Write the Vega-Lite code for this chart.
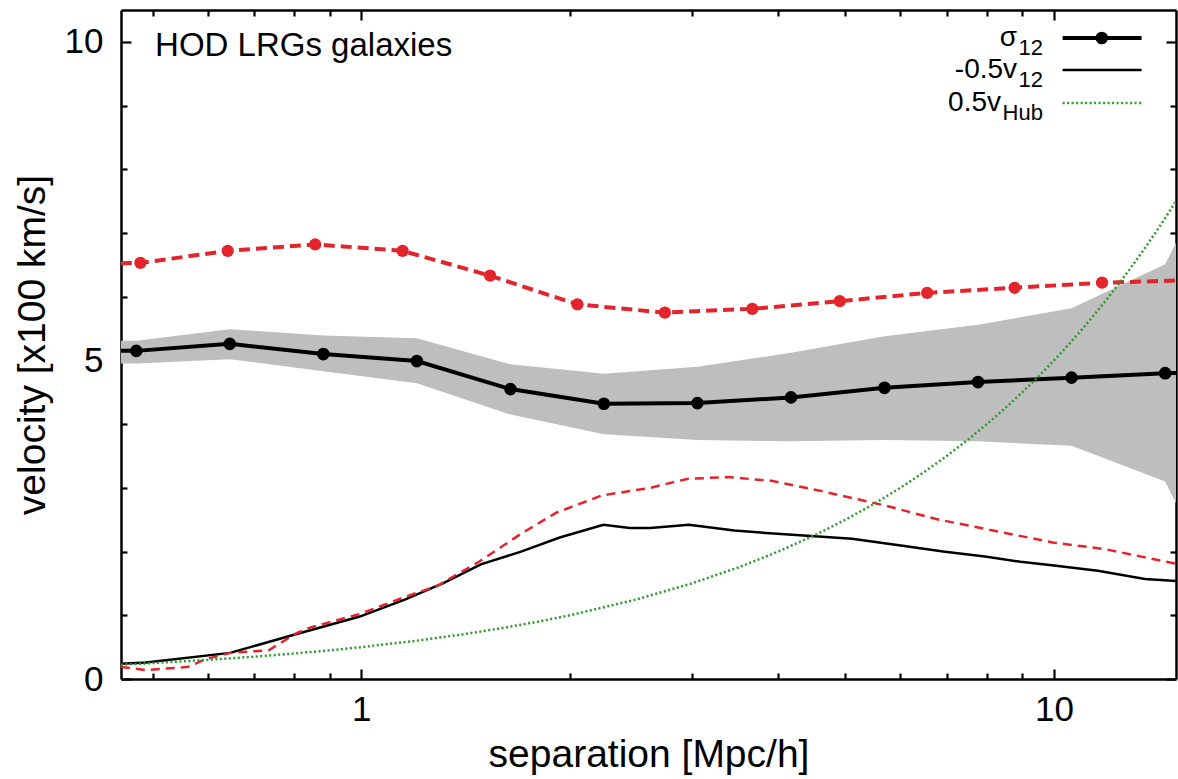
{
  "$schema": "https://vega.github.io/schema/vega-lite/v6.json",
  "width": 1055,
  "height": 669,
  "autosize": {"type": "none"},
  "padding": {"left": 121, "top": 10, "right": 2, "bottom": 100},
  "config": {
    "font": "Liberation Sans",
    "view": {"stroke": null},
    "axis": {"grid": false, "labelColor": "black", "titleColor": "black", "tickColor": "black", "domainColor": "black", "titleFontWeight": "normal"}
  },
  "datasets": {
    "sigmaHod": [
      {"r": 0.347, "v": 5.15, "lo": 4.95, "hi": 5.31},
      {"r": 0.4735, "v": 5.15, "lo": 4.95, "hi": 5.31},
      {"r": 0.646, "v": 5.26, "lo": 5.02, "hi": 5.49},
      {"r": 0.8816, "v": 5.10, "lo": 4.83, "hi": 5.39},
      {"r": 1.203, "v": 4.99, "lo": 4.64, "hi": 5.35},
      {"r": 1.642, "v": 4.55, "lo": 4.15, "hi": 4.94},
      {"r": 2.240, "v": 4.32, "lo": 3.84, "hi": 4.79},
      {"r": 3.057, "v": 4.33, "lo": 3.75, "hi": 4.90},
      {"r": 4.172, "v": 4.42, "lo": 3.73, "hi": 5.12},
      {"r": 5.692, "v": 4.57, "lo": 3.75, "hi": 5.38},
      {"r": 7.768, "v": 4.66, "lo": 3.73, "hi": 5.56},
      {"r": 10.60, "v": 4.73, "lo": 3.66, "hi": 5.82},
      {"r": 14.47, "v": 4.80, "lo": 3.10, "hi": 6.51},
      {"r": 19.74, "v": 4.81, "lo": 0.16, "hi": 9.41}
    ],
    "sigmaModel": [
      {"r": 0.3588, "v": 6.51},
      {"r": 0.4799, "v": 6.53},
      {"r": 0.6416, "v": 6.72},
      {"r": 0.8581, "v": 6.82},
      {"r": 1.1473, "v": 6.72},
      {"r": 1.5345, "v": 6.33},
      {"r": 2.0515, "v": 5.88},
      {"r": 2.7434, "v": 5.75},
      {"r": 3.6683, "v": 5.81},
      {"r": 4.9055, "v": 5.93},
      {"r": 6.5598, "v": 6.06},
      {"r": 8.7723, "v": 6.14},
      {"r": 11.731, "v": 6.22},
      {"r": 15.686, "v": 6.26}
    ],
    "v12Hod": [
      {"r": 0.45, "v": 0.24},
      {"r": 0.4889, "v": 0.26},
      {"r": 0.6467, "v": 0.41},
      {"r": 0.7974, "v": 0.69},
      {"r": 0.995, "v": 0.98},
      {"r": 1.158, "v": 1.25},
      {"r": 1.316, "v": 1.51},
      {"r": 1.488, "v": 1.80},
      {"r": 1.701, "v": 2.00},
      {"r": 1.934, "v": 2.22},
      {"r": 2.237, "v": 2.42},
      {"r": 2.441, "v": 2.37},
      {"r": 2.612, "v": 2.37},
      {"r": 2.971, "v": 2.42},
      {"r": 3.456, "v": 2.33},
      {"r": 4.087, "v": 2.27},
      {"r": 5.110, "v": 2.20},
      {"r": 6.045, "v": 2.09},
      {"r": 6.917, "v": 2.00},
      {"r": 7.998, "v": 1.92},
      {"r": 8.944, "v": 1.84},
      {"r": 10.0, "v": 1.78},
      {"r": 11.57, "v": 1.70},
      {"r": 13.53, "v": 1.57},
      {"r": 15.0, "v": 1.54}
    ],
    "v12Model": [
      {"r": 0.45, "v": 0.19},
      {"r": 0.4889, "v": 0.14},
      {"r": 0.5623, "v": 0.19},
      {"r": 0.5958, "v": 0.31},
      {"r": 0.6467, "v": 0.41},
      {"r": 0.7354, "v": 0.45},
      {"r": 0.8068, "v": 0.72},
      {"r": 0.8453, "v": 0.81},
      {"r": 0.995, "v": 1.02},
      {"r": 1.158, "v": 1.29},
      {"r": 1.286, "v": 1.46},
      {"r": 1.479, "v": 1.84},
      {"r": 1.701, "v": 2.28},
      {"r": 1.912, "v": 2.61},
      {"r": 2.224, "v": 2.88},
      {"r": 2.612, "v": 3.00},
      {"r": 2.954, "v": 3.14},
      {"r": 3.379, "v": 3.17},
      {"r": 3.908, "v": 3.11},
      {"r": 4.571, "v": 2.96},
      {"r": 5.716, "v": 2.72},
      {"r": 6.761, "v": 2.51},
      {"r": 7.998, "v": 2.35},
      {"r": 10.0, "v": 2.14},
      {"r": 11.83, "v": 2.04},
      {"r": 15.0, "v": 1.81}
    ],
    "hubble": [
      {"r": 0.45, "v": 0.225}, {"r": 0.5, "v": 0.25}, {"r": 0.6, "v": 0.30}, {"r": 0.7, "v": 0.35},
      {"r": 0.8, "v": 0.40}, {"r": 0.9, "v": 0.45}, {"r": 1.0, "v": 0.50}, {"r": 1.2, "v": 0.60},
      {"r": 1.4, "v": 0.70}, {"r": 1.6, "v": 0.80}, {"r": 1.8, "v": 0.90}, {"r": 2.0, "v": 1.00},
      {"r": 2.5, "v": 1.25}, {"r": 3.0, "v": 1.50}, {"r": 3.5, "v": 1.75}, {"r": 4.0, "v": 2.00},
      {"r": 4.5, "v": 2.25}, {"r": 5.0, "v": 2.50}, {"r": 5.5, "v": 2.75}, {"r": 6.0, "v": 3.00},
      {"r": 6.5, "v": 3.25}, {"r": 7.0, "v": 3.50}, {"r": 7.5, "v": 3.75}, {"r": 8.0, "v": 4.00},
      {"r": 8.5, "v": 4.25}, {"r": 9.0, "v": 4.50}, {"r": 9.5, "v": 4.75}, {"r": 10.0, "v": 5.00},
      {"r": 10.5, "v": 5.25}, {"r": 11.0, "v": 5.50}, {"r": 11.5, "v": 5.75}, {"r": 12.0, "v": 6.00},
      {"r": 12.5, "v": 6.25}, {"r": 13.0, "v": 6.50}, {"r": 13.5, "v": 6.75}, {"r": 14.0, "v": 7.00},
      {"r": 14.5, "v": 7.25}, {"r": 15.0, "v": 7.50}
    ],
    "keyLines": [
      {"key": "sigma", "r": 10.29, "r2": 13.38, "v": 10.06, "mid": 11.72},
      {"key": "v12", "r": 10.29, "r2": 13.38, "v": 9.56, "mid": 11.72},
      {"key": "hub", "r": 10.29, "r2": 13.38, "v": 9.04, "mid": 11.72}
    ],
    "keyText": [
      {"r": 8.845, "v": 10.06, "t": "σ", "rs": 9.64, "sub": "12"},
      {"r": 8.845, "v": 9.56, "t": "-0.5v", "rs": 9.64, "sub": "12"},
      {"r": 8.385, "v": 9.04, "t": "0.5v", "rs": 9.64, "sub": "Hub"}
    ],
    "note": [
      {"r": 0.504, "v": 9.93, "t": "HOD LRGs galaxies"}
    ]
  },
  "resolve": {"scale": {"x": "shared", "y": "shared"}, "axis": {"x": "independent", "y": "independent"}},
  "layer": [
    {
      "data": {"name": "sigmaHod"},
      "mark": {"type": "area", "color": "#bebebe", "clip": true},
      "encoding": {
        "x": {"field": "r", "type": "quantitative",
          "scale": {"type": "log", "domain": [0.45, 15], "nice": false},
          "axis": {"orient": "bottom", "values": [1, 10], "format": "~g", "ticks": false,
            "domainWidth": 2.5, "labelFontSize": 35, "labelPadding": 13,
            "title": "separation [Mpc/h]", "titleFontSize": 39, "titlePadding": 8}},
        "y": {"field": "lo", "type": "quantitative",
          "scale": {"type": "linear", "domain": [0, 10.5], "nice": false, "zero": false},
          "axis": {"orient": "left", "values": [0, 5, 10], "ticks": false,
            "domainWidth": 2.5, "labelFontSize": 35, "labelPadding": 18,
            "title": "velocity [x100 km/s]", "titleFontSize": 39, "titlePadding": 12}},
        "y2": {"field": "hi"}
      }
    },
    {
      "data": {"name": "hubble"},
      "mark": {"type": "point", "opacity": 0},
      "encoding": {
        "x": {"field": "r", "type": "quantitative", "scale": {"type": "log", "domain": [0.45, 15], "nice": false},
          "axis": {"orient": "bottom", "values": [1, 10], "labels": false, "domain": false, "tickSize": -10, "tickWidth": 2.2, "title": null}},
        "y": {"field": "v", "type": "quantitative", "scale": {"domain": [0, 10.5], "nice": false, "zero": false},
          "axis": {"orient": "left", "values": [0, 5, 10], "labels": false, "domain": false, "tickSize": -10, "tickWidth": 2.2, "title": null}}
      }
    },
    {
      "data": {"name": "hubble"},
      "mark": {"type": "point", "opacity": 0},
      "encoding": {
        "x": {"field": "r", "type": "quantitative", "scale": {"type": "log", "domain": [0.45, 15], "nice": false},
          "axis": {"orient": "bottom", "values": [0.5, 0.6, 0.7, 0.8, 0.9, 2, 3, 4, 5, 6, 7, 8, 9], "labels": false, "domain": false, "tickSize": -6, "tickWidth": 2.2, "title": null}},
        "y": {"field": "v", "type": "quantitative", "scale": {"domain": [0, 10.5], "nice": false, "zero": false},
          "axis": {"orient": "left", "values": [1, 2, 3, 4, 6, 7, 8, 9], "labels": false, "domain": false, "tickSize": -6, "tickWidth": 2.2, "title": null}}
      }
    },
    {
      "data": {"name": "hubble"},
      "mark": {"type": "point", "opacity": 0},
      "encoding": {
        "x": {"field": "r", "type": "quantitative", "scale": {"type": "log", "domain": [0.45, 15], "nice": false},
          "axis": {"orient": "top", "values": [1, 10], "labels": false, "domainWidth": 2.5, "tickSize": -10, "tickWidth": 2.2, "title": null}},
        "y": {"field": "v", "type": "quantitative", "scale": {"domain": [0, 10.5], "nice": false, "zero": false},
          "axis": {"orient": "right", "values": [0, 5, 10], "labels": false, "domainWidth": 2.5, "tickSize": -10, "tickWidth": 2.2, "title": null}}
      }
    },
    {
      "data": {"name": "hubble"},
      "mark": {"type": "point", "opacity": 0},
      "encoding": {
        "x": {"field": "r", "type": "quantitative", "scale": {"type": "log", "domain": [0.45, 15], "nice": false},
          "axis": {"orient": "top", "values": [0.5, 0.6, 0.7, 0.8, 0.9, 2, 3, 4, 5, 6, 7, 8, 9], "labels": false, "domain": false, "tickSize": -6, "tickWidth": 2.2, "title": null}},
        "y": {"field": "v", "type": "quantitative", "scale": {"domain": [0, 10.5], "nice": false, "zero": false},
          "axis": {"orient": "right", "values": [1, 2, 3, 4, 6, 7, 8, 9], "labels": false, "domain": false, "tickSize": -6, "tickWidth": 2.2, "title": null}}
      }
    },
    {
      "data": {"name": "sigmaHod"},
      "mark": {"type": "line", "color": "black", "strokeWidth": 4, "clip": true},
      "encoding": {
        "x": {"field": "r", "type": "quantitative", "axis": null},
        "y": {"field": "v", "type": "quantitative", "axis": null}
      }
    },
    {
      "data": {"name": "sigmaHod"},
      "mark": {"type": "point", "filled": true, "color": "black", "opacity": 1, "size": 160, "clip": true},
      "encoding": {
        "x": {"field": "r", "type": "quantitative", "axis": null},
        "y": {"field": "v", "type": "quantitative", "axis": null}
      }
    },
    {
      "data": {"name": "sigmaModel"},
      "mark": {"type": "line", "color": "#e3242b", "strokeWidth": 4, "strokeDash": [11, 6], "clip": true},
      "encoding": {
        "x": {"field": "r", "type": "quantitative", "axis": null},
        "y": {"field": "v", "type": "quantitative", "axis": null}
      }
    },
    {
      "data": {"name": "sigmaModel"},
      "mark": {"type": "point", "filled": true, "color": "#e3242b", "opacity": 1, "size": 150, "clip": true},
      "encoding": {
        "x": {"field": "r", "type": "quantitative", "axis": null},
        "y": {"field": "v", "type": "quantitative", "axis": null}
      }
    },
    {
      "data": {"name": "v12Hod"},
      "mark": {"type": "line", "color": "black", "strokeWidth": 2.5, "clip": true},
      "encoding": {
        "x": {"field": "r", "type": "quantitative", "axis": null},
        "y": {"field": "v", "type": "quantitative", "axis": null}
      }
    },
    {
      "data": {"name": "v12Model"},
      "mark": {"type": "line", "color": "#e3242b", "strokeWidth": 2.5, "strokeDash": [9, 6], "clip": true},
      "encoding": {
        "x": {"field": "r", "type": "quantitative", "axis": null},
        "y": {"field": "v", "type": "quantitative", "axis": null}
      }
    },
    {
      "data": {"name": "hubble"},
      "mark": {"type": "line", "color": "#2a9a2a", "strokeWidth": 2.5, "strokeDash": [2, 2.5], "clip": true},
      "encoding": {
        "x": {"field": "r", "type": "quantitative", "axis": null},
        "y": {"field": "v", "type": "quantitative", "axis": null}
      }
    },
    {
      "data": {"name": "keyLines"},
      "transform": [{"filter": "datum.key == 'sigma'"}],
      "mark": {"type": "rule", "color": "black", "strokeWidth": 4},
      "encoding": {
        "x": {"field": "r", "type": "quantitative", "axis": null},
        "x2": {"field": "r2"},
        "y": {"field": "v", "type": "quantitative", "axis": null}
      }
    },
    {
      "data": {"name": "keyLines"},
      "transform": [{"filter": "datum.key == 'sigma'"}],
      "mark": {"type": "point", "filled": true, "color": "black", "opacity": 1, "size": 160},
      "encoding": {
        "x": {"field": "mid", "type": "quantitative", "axis": null},
        "y": {"field": "v", "type": "quantitative", "axis": null}
      }
    },
    {
      "data": {"name": "keyLines"},
      "transform": [{"filter": "datum.key == 'v12'"}],
      "mark": {"type": "rule", "color": "black", "strokeWidth": 2.5},
      "encoding": {
        "x": {"field": "r", "type": "quantitative", "axis": null},
        "x2": {"field": "r2"},
        "y": {"field": "v", "type": "quantitative", "axis": null}
      }
    },
    {
      "data": {"name": "keyLines"},
      "transform": [{"filter": "datum.key == 'hub'"}],
      "mark": {"type": "rule", "color": "#2a9a2a", "strokeWidth": 2.5, "strokeDash": [2, 2.5]},
      "encoding": {
        "x": {"field": "r", "type": "quantitative", "axis": null},
        "x2": {"field": "r2"},
        "y": {"field": "v", "type": "quantitative", "axis": null}
      }
    },
    {
      "data": {"name": "keyText"},
      "mark": {"type": "text", "align": "right", "baseline": "middle", "fontSize": 28, "color": "black"},
      "encoding": {
        "x": {"field": "r", "type": "quantitative", "axis": null},
        "y": {"field": "v", "type": "quantitative", "axis": null},
        "text": {"field": "t"}
      }
    },
    {
      "data": {"name": "keyText"},
      "mark": {"type": "text", "align": "right", "baseline": "middle", "fontSize": 22, "dy": 10, "color": "black"},
      "encoding": {
        "x": {"field": "rs", "type": "quantitative", "axis": null},
        "y": {"field": "v", "type": "quantitative", "axis": null},
        "text": {"field": "sub"}
      }
    },
    {
      "data": {"name": "note"},
      "mark": {"type": "text", "align": "left", "baseline": "middle", "fontSize": 33, "color": "black"},
      "encoding": {
        "x": {"field": "r", "type": "quantitative", "axis": null},
        "y": {"field": "v", "type": "quantitative", "axis": null},
        "text": {"field": "t"}
      }
    }
  ]
}
